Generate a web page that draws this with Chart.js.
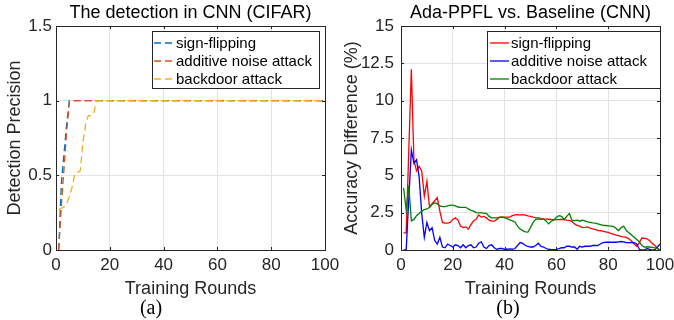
<!DOCTYPE html>
<html>
<head>
<meta charset="utf-8">
<script src="https://cdn.jsdelivr.net/npm/chart.js@4.4.1/dist/chart.umd.min.js"></script>
<style>
  html, body { margin: 0; padding: 0; background: #fff; }
  #wrap { position: relative; width: 674px; height: 320px; }
  .panel { position: absolute; top: 0; height: 320px; }
</style>
</head>
<body>
<div id="wrap">
  <div class="panel" style="left:0;width:345px"><canvas id="detChart" width="345" height="320"></canvas></div>
  <div class="panel" style="left:337px;width:337px"><canvas id="accChart" width="337" height="320"></canvas></div>
</div>
<script>
// Training rounds on the x axis
const rounds = Array.from({ length: 100 }, (_, i) => i + 1);

const seriesNames = ['sign-flipping', 'additive noise attack', 'backdoor attack'];
const xTicks = [0, 20, 40, 60, 80, 100];
const detTicks = [0, 0.5, 1, 1.5];
const accTicks = [0, 2.5, 5, 7.5, 10, 12.5, 15];

// (a) detection precision
const detSignFlip = [
  0, 0.45, 0.65, 0.85, 1, 1, 1, 1, 1, 1, 1, 1, 1, 1, 1, 1, 1, 1, 1, 1,
  1, 1, 1, 1, 1, 1, 1, 1, 1, 1, 1, 1, 1, 1, 1, 1, 1, 1, 1, 1,
  1, 1, 1, 1, 1, 1, 1, 1, 1, 1, 1, 1, 1, 1, 1, 1, 1, 1, 1, 1,
  1, 1, 1, 1, 1, 1, 1, 1, 1, 1, 1, 1, 1, 1, 1, 1, 1, 1, 1, 1,
  1, 1, 1, 1, 1, 1, 1, 1, 1, 1, 1, 1, 1, 1, 1, 1, 1, 1, 1, 1
];
const detNoise = [
  0, 0.3, 0.55, 0.8, 1, 1, 1, 1, 1, 1, 1, 1, 1, 1, 1, 1, 1, 1, 1, 1,
  1, 1, 1, 1, 1, 1, 1, 1, 1, 1, 1, 1, 1, 1, 1, 1, 1, 1, 1, 1,
  1, 1, 1, 1, 1, 1, 1, 1, 1, 1, 1, 1, 1, 1, 1, 1, 1, 1, 1, 1,
  1, 1, 1, 1, 1, 1, 1, 1, 1, 1, 1, 1, 1, 1, 1, 1, 1, 1, 1, 1,
  1, 1, 1, 1, 1, 1, 1, 1, 1, 1, 1, 1, 1, 1, 1, 1, 1, 1, 1, 1
];
const detBackdoor = [
  0.27, 0.28, 0.29, 0.31, 0.36, 0.42, 0.51, 0.52, 0.53, 0.72, 0.84, 0.9, 0.9, 0.91, 1, 1, 1, 1, 1, 1,
  1, 1, 1, 1, 1, 1, 1, 1, 1, 1, 1, 1, 1, 1, 1, 1, 1, 1, 1, 1,
  1, 1, 1, 1, 1, 1, 1, 1, 1, 1, 1, 1, 1, 1, 1, 1, 1, 1, 1, 1,
  1, 1, 1, 1, 1, 1, 1, 1, 1, 1, 1, 1, 1, 1, 1, 1, 1, 1, 1, 1,
  1, 1, 1, 1, 1, 1, 1, 1, 1, 1, 1, 1, 1, 1, 1, 1, 1, 1, 1, 1
];

// (b) accuracy difference (%)
const accSignFlip = [
  1.15, 1.15, 6.6, 12.1, 6.0, 5.3, 5.6, 5.3, 3.6, 4.6,
  2.9, 3.1, 3.3, 3.5, 2.6, 1.85, 1.8, 1.8, 1.85, 2.05,
  2.15, 2.0, 1.6, 1.5, 1.55, 1.4, 1.7, 1.95, 2.05, 2.35,
  2.2, 2.25, 2.15, 2.0, 1.93, 1.93, 2.05, 2.2, 2.2, 2.2,
  2.2, 2.2, 2.3, 2.35, 2.37, 2.33, 2.37, 2.33, 2.28, 2.25,
  2.2, 2.17, 2.15, 2.1, 2.08, 2.07, 2.06, 2.04, 2.04, 2.04,
  2.04, 2.06, 2.04, 2.0, 1.98, 1.9, 1.75, 1.65, 1.6, 1.5,
  1.52, 1.55, 1.47, 1.41, 1.38, 1.32, 1.29, 1.26, 1.22, 1.18,
  1.12, 1.07, 1.0, 0.96, 0.9, 0.88, 0.84, 0.75, 0.6, 0.4,
  0.25, 0.5, 0.8, 0.78, 0.75, 0.62, 0.45, 0.3, 0.12, 0
];
const accNoise = [
  0, 0, 3.4, 6.7, 5.8, 6.05, 4.9, 2.45, 0.85, 1.85,
  1.3, 1.5, 0.65, 0.4, 0.85, 0.2, 0.15, 0.4, 0.3, 0.2,
  0.35, 0.3, 0.15, 0.35, 0.15, 0.3, 0.35, 0.15, 0.2, 0.45,
  0.55, 0.2, 0.1, 0.3, 0.35, 0.15, 0.05, 0.1, 0.1, 0.05,
  0.05, 0.08, 0.05, 0.1, 0.3, 0.5, 0.45, 0.3, 0.25, 0.2,
  0.2, 0.3, 0.45, 0.25, 0.2, 0.1, 0.05, 0.03, 0.03, 0.03,
  0.1, 0.15, 0.15, 0.25, 0.25, 0.2, 0.2, 0.05, 0.25, 0.2,
  0.25, 0.25, 0.25, 0.3, 0.3, 0.3, 0.4, 0.5, 0.52, 0.52,
  0.52, 0.52, 0.52, 0.55, 0.57, 0.55, 0.5, 0.5, 0.5, 0.5,
  0.4, 0.05, 0, 0, 0.1, 0.05, 0, 0, 0.2, 0.4
];
const accBackdoor = [
  4.15, 2.7, 4.3, 1.95, 2.05, 2.3, 2.45, 2.6, 2.7, 2.75,
  2.85, 3.05, 3.15, 3.1, 2.95, 2.9, 2.9, 2.95, 3.0, 3.0,
  2.95, 2.88, 2.86, 2.86, 2.86, 2.75, 2.65, 2.6, 2.5, 2.48,
  2.48, 2.47, 2.45, 2.25, 2.15, 2.15, 2.15, 2.18, 2.2, 2.17,
  2.1, 2.02, 1.95, 1.88, 1.6, 1.4, 1.3, 1.22, 1.2, 1.5,
  1.85, 2.05, 2.08, 2.05, 2.08, 1.95, 1.75, 1.93, 2.0, 2.2,
  2.3, 2.25, 2.04, 2.25, 2.45, 2.0, 1.97, 2.0, 1.93, 2.0,
  1.95, 1.88, 1.85, 1.82, 1.8, 1.75, 1.7, 1.65, 1.64, 1.62,
  1.6, 1.58, 1.45, 1.3, 1.5, 1.6, 1.3, 1.15, 1.0, 0.85,
  0.7, 0.55, 0.3, 0.2, 0.2, 0.2, 0.18, 0.15, 0.1, 0
];

const SANS = '"Liberation Sans", Arial, Helvetica, sans-serif';

function toPoints(values) {
  return values.map((v, i) => ({ x: rounds[i], y: v }));
}

// box, inward ticks, title, panel tag and legend, drawn MATLAB style
const matlabFrame = {
  id: 'matlabFrame',
  afterDraw(chart, args, opts) {
    const ctx = chart.ctx;
    const a = chart.chartArea;
    const xs = chart.scales.x, ys = chart.scales.y;
    ctx.save();
    ctx.strokeStyle = '#262626';
    ctx.lineWidth = 1;
    ctx.beginPath();
    xs.ticks.forEach(t => {
      const px = Math.round(xs.getPixelForValue(t.value)) + 0.5;
      ctx.moveTo(px, a.bottom); ctx.lineTo(px, a.bottom - 3);
      ctx.moveTo(px, a.top); ctx.lineTo(px, a.top + 3);
    });
    ys.ticks.forEach(t => {
      const py = Math.round(ys.getPixelForValue(t.value)) + 0.5;
      ctx.moveTo(a.left, py); ctx.lineTo(a.left + 3, py);
      ctx.moveTo(a.right, py); ctx.lineTo(a.right - 3, py);
    });
    ctx.stroke();
    ctx.strokeRect(Math.round(a.left) + 0.5, Math.round(a.top) + 0.5,
      Math.round(a.right - a.left), Math.round(a.bottom - a.top));

    const cx = (a.left + a.right) / 2;
    ctx.fillStyle = '#000';
    ctx.textAlign = 'center';
    ctx.textBaseline = 'alphabetic';
    ctx.font = '18px ' + SANS;
    ctx.fillText(opts.title, cx, 18);
    ctx.font = '20px "Liberation Serif", "Times New Roman", serif';
    ctx.fillText(opts.tag, opts.tagX, 314);

    const L = opts.legend;
    ctx.fillStyle = '#fff';
    ctx.fillRect(L.x, L.y, L.w, L.h);
    ctx.strokeStyle = '#262626';
    ctx.strokeRect(L.x + 0.5, L.y + 0.5, L.w, L.h);
    ctx.font = '15px ' + SANS;
    ctx.textAlign = 'left';
    ctx.textBaseline = 'middle';
    chart.data.datasets.forEach((ds, i) => {
      const y = L.y + L.row0 + i * L.step;
      ctx.strokeStyle = ds.borderColor;
      ctx.lineWidth = ds.borderWidth;
      ctx.setLineDash(ds.borderDash || []);
      ctx.beginPath();
      ctx.moveTo(L.x + L.line0, y);
      ctx.lineTo(L.x + L.line1, y);
      ctx.stroke();
      ctx.setLineDash([]);
      ctx.fillStyle = '#000';
      ctx.fillText(ds.label, L.x + L.text, y + 1);
    });
    ctx.restore();
  }
};

function buildOptions(cfg) {
  return {
    responsive: false,
    devicePixelRatio: 1,
    animation: false,
    layout: { padding: { left: 0, right: cfg.padRight, top: 26, bottom: 0 } },
    plugins: {
      legend: { display: false },
      tooltip: { enabled: false },
      matlabFrame: cfg.frame
    },
    elements: { point: { radius: 0 }, line: { tension: 0 } },
    scales: {
      x: {
        type: 'linear', min: 0, max: 100,
        afterBuildTicks: s => { s.ticks = xTicks.map(v => ({ value: v })); },
        afterFit: s => { s.height = 70; s.paddingLeft = 0; s.paddingRight = 0; },
        grid: { color: '#e3e3e3', drawTicks: false },
        border: { display: false },
        ticks: { color: '#262626', font: { size: 17, family: SANS }, padding: 5, maxRotation: 0,
                 callback: v => String(v) },
        title: { display: true, text: 'Training Rounds', color: '#262626',
                 font: { size: 18, family: SANS }, padding: { top: 0, bottom: 20 } }
      },
      y: {
        type: 'linear', min: 0, max: cfg.yMax,
        afterBuildTicks: s => { s.ticks = cfg.yTicks.map(v => ({ value: v })); },
        afterFit: s => { s.width = cfg.yWidth; s.paddingTop = 0; s.paddingBottom = 0; },
        grid: { color: '#e3e3e3', drawTicks: false },
        border: { display: false },
        ticks: { color: '#262626', font: { size: 17, family: SANS }, padding: cfg.yPad,
                 callback: v => String(v) },
        title: { display: true, text: cfg.yTitle, color: '#262626',
                 font: { size: 18, family: SANS }, padding: { top: 4, bottom: 0 } }
      }
    }
  };
}

// later series are drawn on top, as in the original plot
function lineSet(label, values, color, dash, order) {
  return {
    label: label,
    data: toPoints(values),
    borderColor: color,
    borderWidth: 1.3,
    borderDash: dash,
    pointRadius: 0,
    fill: false,
    order: order
  };
}

new Chart(document.getElementById('detChart').getContext('2d'), {
  type: 'line',
  data: {
    datasets: [
      lineSet(seriesNames[0], detSignFlip, '#0072BD', [7, 4], 3),
      lineSet(seriesNames[1], detNoise, '#D95319', [7, 4], 2),
      lineSet(seriesNames[2], detBackdoor, '#EDB120', [7, 4], 1)
    ]
  },
  options: buildOptions({
    padRight: 20, yWidth: 56, yPad: 4, yMax: 1.5, yTicks: detTicks,
    yTitle: 'Detection Precision',
    frame: {
      title: 'The detection in CNN (CIFAR)', tag: '(a)', tagX: 151,
      legend: { x: 152, y: 31, w: 167, h: 57, row0: 12, step: 18, line0: 2, line1: 21, text: 24 }
    }
  }),
  plugins: [matlabFrame]
});

new Chart(document.getElementById('accChart').getContext('2d'), {
  type: 'line',
  data: {
    datasets: [
      lineSet(seriesNames[0], accSignFlip, '#FF0000', [], 3),
      lineSet(seriesNames[1], accNoise, '#0000FF', [], 2),
      lineSet(seriesNames[2], accBackdoor, '#008000', [], 1)
    ]
  },
  options: buildOptions({
    padRight: 14, yWidth: 64, yPad: 7, yMax: 15, yTicks: accTicks,
    yTitle: 'Accuracy Difference (%)',
    frame: {
      title: 'Ada-PPFL vs. Baseline (CNN)', tag: '(b)', tagX: 171,
      legend: { x: 150, y: 31, w: 173, h: 57, row0: 12, step: 18, line0: 3, line1: 22, text: 24 }
    }
  }),
  plugins: [matlabFrame]
});
</script>
</body>
</html>
